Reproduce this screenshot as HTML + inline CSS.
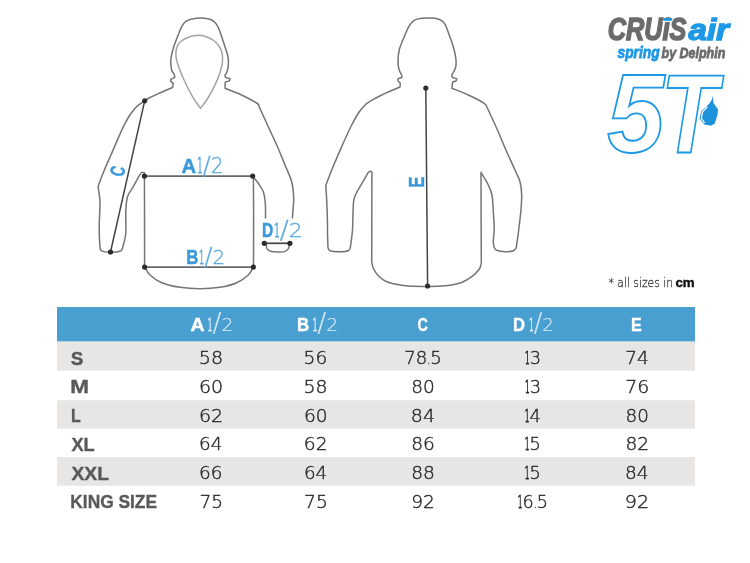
<!DOCTYPE html>
<html lang="en"><head><meta charset="utf-8"><title>Size chart</title>
<style>html,body{margin:0;padding:0;background:#fff}svg{display:block}</style></head>
<body>
<svg width="750" height="563" viewBox="0 0 750 563">
<rect width="750" height="563" fill="#fff"/>
<g fill="none" stroke="#747474" stroke-width="1.5" stroke-linejoin="round" stroke-linecap="round">
<path d="M144.7 100.8 C145.6 100.2 147.3 98.9 150.0 97.5 C152.7 96.1 157.2 94.2 161.0 92.5 C164.8 90.8 170.6 88.3 172.5 87.5 C172.6 86.8 173.2 84.0 173.3 83.3 C172.9 83.0 171.2 81.6 170.8 81.3 C170.8 81.0 170.8 79.5 170.8 79.2 C171.5 78.9 174.0 77.8 174.7 77.5 C174.6 77.0 174.7 75.5 174.2 74.2 C173.7 73.0 172.3 72.4 171.7 70.0 C171.1 67.6 170.5 63.6 170.8 60.0 C171.1 56.4 172.2 52.2 173.3 48.3 C174.4 44.4 176.1 40.3 177.5 36.7 C178.9 33.1 180.3 29.3 181.7 26.7 C183.1 24.1 183.9 22.6 185.8 21.3 C187.7 20.0 190.7 19.2 193.3 18.7 C196.0 18.1 198.9 17.9 201.7 18.0 C204.5 18.1 207.8 18.4 210.0 19.2 C212.2 19.9 213.6 21.1 215.0 22.5 C216.4 23.9 217.2 25.1 218.3 27.5 C219.4 29.9 220.6 33.5 221.7 36.7 C222.8 39.9 223.9 43.4 225.0 46.7 C226.1 50.0 227.4 53.7 228.0 56.7 C228.6 59.8 228.5 62.5 228.3 65.0 C228.1 67.5 227.6 70.0 227.0 71.7 C226.4 73.4 225.2 74.3 225.0 75.3 C224.8 76.3 225.7 77.1 225.8 77.5 C226.5 77.7 229.3 78.5 230.0 78.7 C229.9 79.0 229.8 80.5 229.7 80.8 C229.0 81.0 226.0 81.8 225.3 82.0 C225.2 83.0 225.1 87.2 225.0 88.3 C227.5 89.3 234.7 91.8 240.0 94.2 C245.3 96.7 253.5 100.9 256.7 103.0 C259.9 105.1 258.8 106.1 259.2 106.7 C260.4 109.5 263.8 116.9 266.7 123.3 C269.6 129.7 273.6 138.1 276.7 145.0 C279.8 151.9 282.5 158.9 285.0 165.0 C287.5 171.1 290.2 176.1 291.7 181.7 C293.1 187.2 293.5 193.3 293.7 198.3 C293.9 203.3 293.0 208.4 292.8 211.7 C292.6 215.0 292.5 216.9 292.4 218.0"/>
<path d="M144.7 100.8 C143.1 102.0 138.3 104.5 135.0 108.3 C131.7 112.0 128.9 115.8 125.0 123.3 C121.1 130.8 115.1 145.5 111.7 153.3 C108.3 161.1 106.6 164.7 104.4 170.0 C102.2 175.3 99.6 182.1 98.6 185.0 C97.6 187.9 98.3 186.9 98.2 187.3 C98.4 188.6 99.0 192.3 99.3 195.0 C99.6 197.7 100.0 197.8 100.0 203.3 C100.0 208.9 99.2 221.1 99.2 228.3 C99.2 235.5 99.6 242.9 100.0 246.7 C100.4 250.4 100.0 249.9 101.7 250.8 C103.4 251.7 107.0 252.1 110.0 252.2 C113.0 252.3 117.9 252.0 120.0 251.3 C122.1 250.7 122.1 248.8 122.5 248.3 C123.0 245.8 125.2 239.4 125.8 233.3 C126.3 227.2 125.5 217.8 125.8 211.7 C126.1 205.6 126.2 200.9 127.5 196.7 C128.8 192.5 131.4 190.0 133.3 186.7 C135.2 183.4 137.3 179.1 138.7 176.7 C140.1 174.3 140.8 173.2 141.7 172.5 C142.6 171.8 143.9 172.8 144.4 172.8 C144.4 177.3 144.5 184.3 144.5 200.0 C144.5 215.7 144.6 255.6 144.6 266.7 C145.5 268.1 147.2 272.3 150.0 275.0 C152.8 277.7 156.7 280.6 161.7 282.7 C166.7 284.8 173.6 286.3 180.0 287.3 C186.4 288.3 193.3 288.7 200.0 288.7 C206.7 288.7 213.9 288.3 220.0 287.3 C226.1 286.3 232.0 284.8 236.7 282.7 C241.4 280.6 245.5 277.7 248.3 275.0 C251.1 272.3 252.6 268.1 253.5 266.7 C253.5 258.9 253.6 235.1 253.6 220.0 C253.6 204.9 253.4 183.5 253.4 176.2"/>
<path d="M252.7 176.2 C253.6 177.4 256.5 180.7 258.3 183.3 C260.1 185.9 262.1 188.4 263.3 191.7 C264.5 195.0 264.9 198.9 265.3 203.3 C265.7 207.7 265.5 215.6 265.5 218.0"/>
<path d="M266.3 245.0 C266.5 245.7 266.4 248.2 267.3 249.3 C268.2 250.4 269.7 251.2 271.5 251.6 C273.3 252.0 275.8 252.0 278.0 252.0 C280.2 252.0 282.8 252.1 284.5 251.6 C286.2 251.1 287.5 250.0 288.3 248.9 C289.1 247.8 289.1 245.7 289.2 245.0"/>
<path d="M200.5 108.3 C199.2 106.4 195.4 101.7 192.5 96.7 C189.6 91.7 185.8 83.9 183.3 78.3 C180.8 72.7 178.8 67.5 177.5 63.3 C176.2 59.1 175.7 56.5 175.8 53.3 C175.9 50.1 176.6 46.7 178.3 44.2 C180.0 41.7 182.5 39.8 185.8 38.3 C189.1 36.8 194.6 35.4 198.3 35.3 C202.1 35.2 205.2 36.2 208.3 37.5 C211.4 38.8 214.5 40.9 216.7 43.3 C218.9 45.7 220.7 48.6 221.7 51.7 C222.7 54.8 222.9 57.8 222.5 61.7 C222.1 65.6 220.7 70.6 219.2 75.0 C217.7 79.4 215.4 84.1 213.3 88.3 C211.2 92.5 208.8 96.7 206.7 100.0 C204.6 103.3 201.5 106.9 200.5 108.3" stroke="#a3a3a3"/>
<path d="M325.8 185.5 C326.8 182.9 329.1 176.5 331.7 170.0 C334.3 163.5 338.4 154.2 341.7 146.7 C345.0 139.2 348.6 131.0 351.7 125.0 C354.8 119.0 357.5 114.4 360.0 110.8 C362.5 107.2 365.6 104.5 366.7 103.3 C369.2 101.9 376.1 97.7 381.7 95.0 C387.2 92.3 396.9 88.3 400.0 87.0 C400.1 86.4 400.2 83.9 400.3 83.3 C399.9 82.9 398.4 81.2 398.0 80.8 C398.0 80.5 398.0 79.0 398.0 78.7 C398.7 78.5 401.3 77.5 402.0 77.2 C401.9 76.7 401.8 75.4 401.3 74.2 C400.8 73.0 399.8 72.1 399.2 70.0 C398.6 67.9 398.0 65.0 398.0 61.7 C398.0 58.4 398.2 54.2 399.2 50.0 C400.2 45.8 402.5 40.7 404.2 36.7 C405.9 32.7 407.5 28.5 409.2 25.8 C410.9 23.1 412.1 21.6 414.2 20.3 C416.3 19.1 418.8 18.7 421.7 18.3 C424.6 17.9 428.6 17.8 431.7 18.0 C434.8 18.2 437.8 18.7 440.0 19.7 C442.2 20.7 443.5 21.6 445.0 24.2 C446.5 26.8 447.8 31.2 449.2 35.0 C450.6 38.8 452.2 42.8 453.3 46.7 C454.4 50.6 455.4 55.0 455.8 58.3 C456.2 61.6 456.2 64.3 455.8 66.7 C455.4 69.1 454.0 71.1 453.3 72.5 C452.6 73.9 451.8 74.5 451.7 75.3 C451.6 76.1 452.4 77.1 452.5 77.5 C453.2 77.7 456.0 78.5 456.7 78.7 C456.6 79.0 456.4 80.5 456.3 80.8 C455.7 81.0 453.1 82.0 452.5 82.2 C452.4 83.2 452.1 87.3 452.0 88.3 C454.7 89.4 462.9 92.5 468.3 95.0 C473.7 97.5 481.0 101.1 484.2 103.3 C487.4 105.5 486.9 107.5 487.5 108.3 C489.0 111.6 493.5 121.1 496.7 128.3 C499.9 135.5 503.6 144.8 506.7 151.7 C509.8 158.6 512.8 165.0 515.0 170.0 C517.2 175.0 518.9 177.5 520.0 181.7 C521.1 185.9 521.6 190.0 521.7 195.0 C521.8 200.0 521.4 205.3 520.8 211.7 C520.2 218.1 519.0 227.3 518.3 233.3 C517.5 239.3 516.6 245.1 516.3 247.5 C515.8 248.1 515.2 250.1 513.3 250.8 C511.4 251.5 507.8 251.8 505.0 251.7 C502.2 251.6 498.5 251.0 496.7 250.3 C494.9 249.6 494.6 248.0 494.2 247.5 C494.1 246.5 493.3 244.9 493.3 241.7 C493.3 238.5 494.2 233.3 494.2 228.3 C494.2 223.3 493.7 217.2 493.3 211.7 C492.9 206.1 492.8 199.4 492.0 195.0 C491.2 190.6 490.1 188.8 488.3 185.0 C486.5 181.2 482.2 174.4 481.0 172.3 C481.0 180.2 481.1 204.8 481.1 220.0 C481.2 235.2 481.3 256.1 481.3 263.3 C480.9 264.3 480.8 267.0 479.2 269.2 C477.6 271.4 474.6 274.5 471.7 276.7 C468.8 278.9 465.3 281.1 461.7 282.5 C458.1 283.9 454.2 284.7 450.0 285.3 C445.8 285.9 440.4 286.1 436.7 286.3 C433.0 286.5 431.6 286.4 427.7 286.4 C423.8 286.4 417.6 286.5 413.3 286.3 C409.0 286.1 406.1 286.1 401.7 285.3 C397.3 284.5 390.6 283.3 386.7 281.7 C382.8 280.1 380.5 278.0 378.3 275.8 C376.1 273.6 374.4 270.7 373.3 268.3 C372.2 265.9 372.0 262.8 371.7 261.7 C371.7 254.8 371.8 234.9 371.8 220.0 C371.8 205.1 371.9 180.0 371.9 172.0 C371.7 171.9 371.1 171.2 370.5 171.3 C369.9 171.4 368.7 172.1 368.3 172.3 C366.9 174.7 362.4 182.4 360.0 186.7 C357.6 191.0 355.4 193.9 354.2 198.3 C353.0 202.7 353.3 208.0 353.0 213.3 C352.7 218.6 352.9 224.3 352.5 230.0 C352.1 235.7 350.7 244.6 350.3 247.5 C350.0 248.1 350.0 250.1 348.3 250.8 C346.6 251.5 343.1 251.7 340.0 251.7 C336.9 251.7 332.0 251.5 330.0 250.8 C328.0 250.1 328.3 248.1 328.0 247.5 C327.9 245.1 327.6 237.1 327.5 233.3 C327.4 229.6 327.6 230.6 327.5 225.0 C327.4 219.4 327.0 206.6 326.7 200.0 C326.4 193.4 325.9 187.9 325.8 185.5"/>
</g>
<g stroke="#444444" stroke-width="1.5" fill="none">
<path d="M144.7 100.8L110.5 252"/>
<path d="M425.8 88L427.6 286"/>
<path d="M264.3 243.3H289.9" stroke-width="1.7"/>
</g>
<g stroke="#686868" stroke-width="1.9" fill="none">
<path d="M144.5 176.1H252.7"/>
<path d="M144.6 267.1H253.4"/>
</g>
<g fill="#2c2c2c">
<circle cx="144.7" cy="100.8" r="2.6"/>
<circle cx="110.5" cy="252.0" r="2.6"/>
<circle cx="144.4" cy="176.1" r="2.6"/>
<circle cx="252.7" cy="176.1" r="2.6"/>
<circle cx="144.6" cy="267.1" r="2.6"/>
<circle cx="253.4" cy="267.1" r="2.6"/>
<circle cx="264.3" cy="243.3" r="2.6"/>
<circle cx="289.9" cy="243.3" r="2.6"/>
<circle cx="425.8" cy="88.0" r="2.6"/>
<circle cx="427.6" cy="286.0" r="2.6"/>
</g>
<rect x="57" y="307" width="638" height="34.6" fill="#4a9fd1"/>
<rect x="57" y="341.6" width="638" height="29.0" fill="#e7e6e4"/>
<rect x="57" y="400.2" width="638" height="28.4" fill="#e7e6e4"/>
<rect x="57" y="457.0" width="638" height="28.7" fill="#e7e6e4"/>
<text transform="translate(181.45 172.60) scale(0.991 1)" font-family="Liberation Sans, sans-serif" font-size="20.5" fill="#3a99d8" font-weight="bold" stroke="#3a99d8" stroke-width="0.50">A</text>
<text transform="translate(197.34 172.60) scale(0.978 1)" font-family="DejaVu Sans Light, DejaVu Sans, Liberation Sans, sans-serif" font-size="20.5" fill="#5ba9dc" font-weight="200" stroke="#5ba9dc" stroke-width="0.35"><tspan textLength="5.41" lengthAdjust="spacingAndGlyphs" stroke-width="1.0">1</tspan><tspan font-size="25.0" dy="1.2">/</tspan><tspan dy="-1.2">2</tspan></text>
<text transform="translate(186.34 264.10) scale(0.837 1)" font-family="Liberation Sans, sans-serif" font-size="20.2" fill="#3a99d8" font-weight="bold" stroke="#3a99d8" stroke-width="0.50">B</text>
<text transform="translate(199.01 264.10) scale(0.986 1)" font-family="DejaVu Sans Light, DejaVu Sans, Liberation Sans, sans-serif" font-size="20.2" fill="#5ba9dc" font-weight="200" stroke="#5ba9dc" stroke-width="0.35"><tspan textLength="5.33" lengthAdjust="spacingAndGlyphs" stroke-width="1.0">1</tspan><tspan font-size="24.6" dy="1.2">/</tspan><tspan dy="-1.2">2</tspan></text>
<text transform="translate(262.02 236.50) scale(0.773 1)" font-family="Liberation Sans, sans-serif" font-size="20.1" fill="#3a99d8" font-weight="bold" stroke="#3a99d8" stroke-width="0.50">D</text>
<text transform="translate(273.91 236.50) scale(1.089 1)" font-family="DejaVu Sans Light, DejaVu Sans, Liberation Sans, sans-serif" font-size="20.1" fill="#5ba9dc" font-weight="200" stroke="#5ba9dc" stroke-width="0.35"><tspan textLength="5.31" lengthAdjust="spacingAndGlyphs" stroke-width="1.0">1</tspan><tspan font-size="24.5" dy="1.2">/</tspan><tspan dy="-1.2">2</tspan></text>
<text transform="translate(123.40 177.40) rotate(-78.4) scale(0.680 1)" font-family="Liberation Sans, sans-serif" font-size="20.5" fill="#3a99d8" font-weight="bold" stroke="#3a99d8" stroke-width="0.40">C</text>
<text transform="translate(423.50 187.80) rotate(-90.0) scale(0.760 1)" font-family="Liberation Sans, sans-serif" font-size="22.3" fill="#3a99d8" font-weight="bold" stroke="#3a99d8" stroke-width="0.40">E</text>
<text transform="translate(608.51 287.30) scale(0.945 1)" font-family="DejaVu Sans Light, DejaVu Sans, Liberation Sans, sans-serif" font-size="11.4" fill="#333" font-weight="200" stroke="#333" stroke-width="0.25">* all sizes in</text>
<text transform="translate(675.47 287.30) scale(1.109 1)" font-family="Liberation Sans, sans-serif" font-size="12.0" fill="#111" font-weight="bold" stroke="#111" stroke-width="0.40">cm</text>
<text transform="translate(190.61 330.90) scale(1.075 1)" font-family="Liberation Sans, sans-serif" font-size="18.2" fill="#ffffff" font-weight="bold" stroke="#ffffff" stroke-width="0.35">A</text>
<text transform="translate(207.57 330.90) scale(1.025 1)" font-family="DejaVu Sans Light, DejaVu Sans, Liberation Sans, sans-serif" font-size="18.2" fill="#d4e8f5" font-weight="200" stroke="#d4e8f5" stroke-width="0.20"><tspan textLength="4.81" lengthAdjust="spacingAndGlyphs" stroke-width="1.0">1</tspan><tspan font-size="25.8" dy="1.5">/</tspan><tspan dy="-1.5">2</tspan></text>
<text transform="translate(297.01 330.90) scale(0.922 1)" font-family="Liberation Sans, sans-serif" font-size="18.2" fill="#ffffff" font-weight="bold" stroke="#ffffff" stroke-width="0.35">B</text>
<text transform="translate(312.40 330.90) scale(1.023 1)" font-family="DejaVu Sans Light, DejaVu Sans, Liberation Sans, sans-serif" font-size="18.2" fill="#d4e8f5" font-weight="200" stroke="#d4e8f5" stroke-width="0.20"><tspan textLength="4.81" lengthAdjust="spacingAndGlyphs" stroke-width="1.0">1</tspan><tspan font-size="25.8" dy="1.5">/</tspan><tspan dy="-1.5">2</tspan></text>
<text transform="translate(417.46 330.90) scale(0.789 1)" font-family="Liberation Sans, sans-serif" font-size="18.2" fill="#ffffff" font-weight="bold" stroke="#ffffff" stroke-width="0.35">C</text>
<text transform="translate(513.04 330.90) scale(0.912 1)" font-family="Liberation Sans, sans-serif" font-size="18.2" fill="#ffffff" font-weight="bold" stroke="#ffffff" stroke-width="0.35">D</text>
<text transform="translate(528.92 330.90) scale(0.991 1)" font-family="DejaVu Sans Light, DejaVu Sans, Liberation Sans, sans-serif" font-size="18.2" fill="#d4e8f5" font-weight="200" stroke="#d4e8f5" stroke-width="0.20"><tspan textLength="4.81" lengthAdjust="spacingAndGlyphs" stroke-width="1.0">1</tspan><tspan font-size="25.8" dy="1.5">/</tspan><tspan dy="-1.5">2</tspan></text>
<text transform="translate(630.91 330.90) scale(0.886 1)" font-family="Liberation Sans, sans-serif" font-size="18.2" fill="#ffffff" font-weight="bold" stroke="#ffffff" stroke-width="0.35">E</text>
<text transform="translate(70.67 364.70) scale(1.014 1)" font-family="Liberation Sans, sans-serif" font-size="18.6" fill="#595959" font-weight="bold" stroke="#595959" stroke-width="0.35">S</text>
<text transform="translate(198.85 364.40) scale(1.073 1)" font-family="DejaVu Sans Light, DejaVu Sans, Liberation Sans, sans-serif" font-size="17.8" fill="#2b2b2b" font-weight="200" stroke="#2b2b2b" stroke-width="0.42">58</text>
<text transform="translate(303.60 364.40) scale(1.045 1)" font-family="DejaVu Sans Light, DejaVu Sans, Liberation Sans, sans-serif" font-size="17.8" fill="#2b2b2b" font-weight="200" stroke="#2b2b2b" stroke-width="0.42">56</text>
<text transform="translate(404.22 364.40) scale(1.018 1)" font-family="DejaVu Sans Light, DejaVu Sans, Liberation Sans, sans-serif" font-size="17.8" fill="#2b2b2b" font-weight="200" stroke="#2b2b2b" stroke-width="0.42">78<tspan textLength="3.00" lengthAdjust="spacingAndGlyphs">.</tspan>5</text>
<text transform="translate(524.99 364.40) scale(0.998 1)" font-family="DejaVu Sans Light, DejaVu Sans, Liberation Sans, sans-serif" font-size="17.8" fill="#2b2b2b" font-weight="200" stroke="#2b2b2b" stroke-width="0.42"><tspan textLength="4.70" lengthAdjust="spacingAndGlyphs" stroke-width="1.0">1</tspan>3</text>
<text transform="translate(625.27 364.40) scale(1.036 1)" font-family="DejaVu Sans Light, DejaVu Sans, Liberation Sans, sans-serif" font-size="17.8" fill="#2b2b2b" font-weight="200" stroke="#2b2b2b" stroke-width="0.42">74</text>
<text transform="translate(70.15 393.00) scale(1.210 1)" font-family="Liberation Sans, sans-serif" font-size="18.6" fill="#595959" font-weight="bold" stroke="#595959" stroke-width="0.35">M</text>
<text transform="translate(199.05 392.70) scale(1.066 1)" font-family="DejaVu Sans Light, DejaVu Sans, Liberation Sans, sans-serif" font-size="17.8" fill="#2b2b2b" font-weight="200" stroke="#2b2b2b" stroke-width="0.42">60</text>
<text transform="translate(303.55 392.70) scale(1.061 1)" font-family="DejaVu Sans Light, DejaVu Sans, Liberation Sans, sans-serif" font-size="17.8" fill="#2b2b2b" font-weight="200" stroke="#2b2b2b" stroke-width="0.42">58</text>
<text transform="translate(411.18 392.70) scale(1.041 1)" font-family="DejaVu Sans Light, DejaVu Sans, Liberation Sans, sans-serif" font-size="17.8" fill="#2b2b2b" font-weight="200" stroke="#2b2b2b" stroke-width="0.42">80</text>
<text transform="translate(524.99 392.70) scale(0.997 1)" font-family="DejaVu Sans Light, DejaVu Sans, Liberation Sans, sans-serif" font-size="17.8" fill="#2b2b2b" font-weight="200" stroke="#2b2b2b" stroke-width="0.42"><tspan textLength="4.70" lengthAdjust="spacingAndGlyphs" stroke-width="1.0">1</tspan>3</text>
<text transform="translate(625.23 392.70) scale(1.064 1)" font-family="DejaVu Sans Light, DejaVu Sans, Liberation Sans, sans-serif" font-size="17.8" fill="#2b2b2b" font-weight="200" stroke="#2b2b2b" stroke-width="0.42">76</text>
<text transform="translate(70.88 421.90) scale(0.866 1)" font-family="Liberation Sans, sans-serif" font-size="18.6" fill="#595959" font-weight="bold" stroke="#595959" stroke-width="0.35">L</text>
<text transform="translate(199.02 421.60) scale(1.066 1)" font-family="DejaVu Sans Light, DejaVu Sans, Liberation Sans, sans-serif" font-size="17.8" fill="#2b2b2b" font-weight="200" stroke="#2b2b2b" stroke-width="0.42">62</text>
<text transform="translate(303.88 421.60) scale(1.045 1)" font-family="DejaVu Sans Light, DejaVu Sans, Liberation Sans, sans-serif" font-size="17.8" fill="#2b2b2b" font-weight="200" stroke="#2b2b2b" stroke-width="0.42">60</text>
<text transform="translate(410.76 421.60) scale(1.071 1)" font-family="DejaVu Sans Light, DejaVu Sans, Liberation Sans, sans-serif" font-size="17.8" fill="#2b2b2b" font-weight="200" stroke="#2b2b2b" stroke-width="0.42">84</text>
<text transform="translate(524.68 421.60) scale(1.005 1)" font-family="DejaVu Sans Light, DejaVu Sans, Liberation Sans, sans-serif" font-size="17.8" fill="#2b2b2b" font-weight="200" stroke="#2b2b2b" stroke-width="0.42"><tspan textLength="4.70" lengthAdjust="spacingAndGlyphs" stroke-width="1.0">1</tspan>4</text>
<text transform="translate(625.58 421.60) scale(1.028 1)" font-family="DejaVu Sans Light, DejaVu Sans, Liberation Sans, sans-serif" font-size="17.8" fill="#2b2b2b" font-weight="200" stroke="#2b2b2b" stroke-width="0.42">80</text>
<text transform="translate(71.47 450.70) scale(0.978 1)" font-family="Liberation Sans, sans-serif" font-size="18.6" fill="#595959" font-weight="bold" stroke="#595959" stroke-width="0.35">XL</text>
<text transform="translate(199.04 450.40) scale(1.030 1)" font-family="DejaVu Sans Light, DejaVu Sans, Liberation Sans, sans-serif" font-size="17.8" fill="#2b2b2b" font-weight="200" stroke="#2b2b2b" stroke-width="0.42">64</text>
<text transform="translate(303.81 450.40) scale(1.049 1)" font-family="DejaVu Sans Light, DejaVu Sans, Liberation Sans, sans-serif" font-size="17.8" fill="#2b2b2b" font-weight="200" stroke="#2b2b2b" stroke-width="0.42">62</text>
<text transform="translate(411.26 450.40) scale(1.043 1)" font-family="DejaVu Sans Light, DejaVu Sans, Liberation Sans, sans-serif" font-size="17.8" fill="#2b2b2b" font-weight="200" stroke="#2b2b2b" stroke-width="0.42">86</text>
<text transform="translate(524.84 450.40) scale(0.998 1)" font-family="DejaVu Sans Light, DejaVu Sans, Liberation Sans, sans-serif" font-size="17.8" fill="#2b2b2b" font-weight="200" stroke="#2b2b2b" stroke-width="0.42"><tspan textLength="4.70" lengthAdjust="spacingAndGlyphs" stroke-width="1.0">1</tspan>5</text>
<text transform="translate(625.46 450.40) scale(1.047 1)" font-family="DejaVu Sans Light, DejaVu Sans, Liberation Sans, sans-serif" font-size="17.8" fill="#2b2b2b" font-weight="200" stroke="#2b2b2b" stroke-width="0.42">82</text>
<text transform="translate(71.47 479.50) scale(1.038 1)" font-family="Liberation Sans, sans-serif" font-size="18.6" fill="#595959" font-weight="bold" stroke="#595959" stroke-width="0.35">XXL</text>
<text transform="translate(199.08 479.20) scale(1.037 1)" font-family="DejaVu Sans Light, DejaVu Sans, Liberation Sans, sans-serif" font-size="17.8" fill="#2b2b2b" font-weight="200" stroke="#2b2b2b" stroke-width="0.42">66</text>
<text transform="translate(303.93 479.20) scale(1.031 1)" font-family="DejaVu Sans Light, DejaVu Sans, Liberation Sans, sans-serif" font-size="17.8" fill="#2b2b2b" font-weight="200" stroke="#2b2b2b" stroke-width="0.42">64</text>
<text transform="translate(411.18 479.20) scale(1.047 1)" font-family="DejaVu Sans Light, DejaVu Sans, Liberation Sans, sans-serif" font-size="17.8" fill="#2b2b2b" font-weight="200" stroke="#2b2b2b" stroke-width="0.42">88</text>
<text transform="translate(524.84 479.20) scale(0.998 1)" font-family="DejaVu Sans Light, DejaVu Sans, Liberation Sans, sans-serif" font-size="17.8" fill="#2b2b2b" font-weight="200" stroke="#2b2b2b" stroke-width="0.42"><tspan textLength="4.70" lengthAdjust="spacingAndGlyphs" stroke-width="1.0">1</tspan>5</text>
<text transform="translate(625.03 479.20) scale(1.042 1)" font-family="DejaVu Sans Light, DejaVu Sans, Liberation Sans, sans-serif" font-size="17.8" fill="#2b2b2b" font-weight="200" stroke="#2b2b2b" stroke-width="0.42">84</text>
<text transform="translate(70.33 508.00) scale(0.933 1)" font-family="Liberation Sans, sans-serif" font-size="18.6" fill="#595959" font-weight="bold" stroke="#595959" stroke-width="0.35">KING SIZE</text>
<text transform="translate(199.50 507.70) scale(1.043 1)" font-family="DejaVu Sans Light, DejaVu Sans, Liberation Sans, sans-serif" font-size="17.8" fill="#2b2b2b" font-weight="200" stroke="#2b2b2b" stroke-width="0.42">75</text>
<text transform="translate(303.98 507.70) scale(1.051 1)" font-family="DejaVu Sans Light, DejaVu Sans, Liberation Sans, sans-serif" font-size="17.8" fill="#2b2b2b" font-weight="200" stroke="#2b2b2b" stroke-width="0.42">75</text>
<text transform="translate(411.21 507.70) scale(1.041 1)" font-family="DejaVu Sans Light, DejaVu Sans, Liberation Sans, sans-serif" font-size="17.8" fill="#2b2b2b" font-weight="200" stroke="#2b2b2b" stroke-width="0.42">92</text>
<text transform="translate(517.87 507.70) scale(0.988 1)" font-family="DejaVu Sans Light, DejaVu Sans, Liberation Sans, sans-serif" font-size="17.8" fill="#2b2b2b" font-weight="200" stroke="#2b2b2b" stroke-width="0.42"><tspan textLength="4.70" lengthAdjust="spacingAndGlyphs" stroke-width="1.0">1</tspan>6<tspan textLength="3.00" lengthAdjust="spacingAndGlyphs">.</tspan>5</text>
<text transform="translate(624.80 507.70) scale(1.075 1)" font-family="DejaVu Sans Light, DejaVu Sans, Liberation Sans, sans-serif" font-size="17.8" fill="#2b2b2b" font-weight="200" stroke="#2b2b2b" stroke-width="0.42">92</text>
<text transform="translate(607.69 40.40) scale(0.825 1)" font-family="Liberation Sans, sans-serif" font-size="30.6" fill="#6b6b6b" font-weight="bold" font-style="italic" stroke="#6b6b6b" stroke-width="1.50" stroke-linejoin="miter">CRUIS</text>
<text transform="translate(688.52 40.40) scale(1.118 1)" font-family="Liberation Sans, sans-serif" font-size="29.6" fill="#1c98e6" font-weight="bold" font-style="italic" stroke="#1c98e6" stroke-width="1.40" stroke-linejoin="miter">air</text>
<text transform="translate(617.49 57.50) scale(0.872 1)" font-family="Liberation Sans, sans-serif" font-size="15.8" fill="#1c98e6" font-weight="bold" font-style="italic" stroke="#1c98e6" stroke-width="0.80">spring</text>
<text transform="translate(661.51 57.50) scale(0.844 1)" font-family="Liberation Sans, sans-serif" font-size="14.8" fill="#6b6b6b" font-weight="bold" font-style="italic" stroke="#6b6b6b" stroke-width="0.80">by Delphin</text>
<text x="607.3" y="151.6" font-family="Liberation Sans, sans-serif" font-weight="bold" font-style="italic" font-size="112" fill="none" stroke="#1c98e6" stroke-width="1.9" stroke-linejoin="miter"><tspan textLength="57" lengthAdjust="spacingAndGlyphs">5</tspan><tspan dx="-3.5" textLength="56.5" lengthAdjust="spacingAndGlyphs">T</tspan></text>
<path d="M662.6 20.5H672.6L672.3 22H662.3Z" fill="#fff"/>
<path d="M663.6 18H672.4L671.8 20.7H663Z" fill="#1c98e6"/>
<path d="M712.8 95.4 C712.6 99 710.5 102.5 708 105 L701.2 111.2 L699.4 118.8 L704.4 124.6 L710.8 125.8 L714.8 123.4 L717.6 114.4 L718 109.2 L713.6 103.2 Z" fill="#1d93dc"/>
<path d="M707.3 106.8 L702.6 111.8 L701.2 118.4 L704.6 122.8" fill="none" stroke="#fff" stroke-width="1.3"/>
</svg>
</body></html>
